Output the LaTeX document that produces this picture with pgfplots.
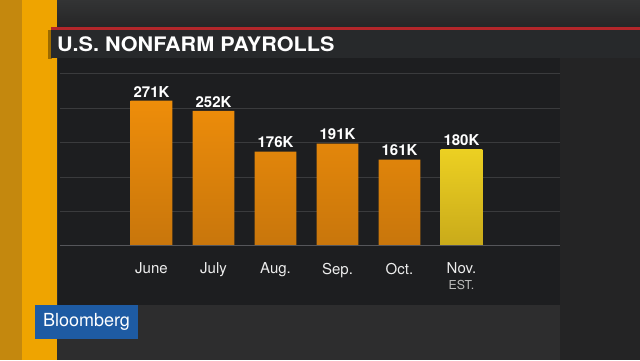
\documentclass[border=0pt]{standalone}
\usepackage{fontspec}
\setmainfont{TeX Gyre Heros}
\newfontfamily\titlefont[FakeStretch=1.08]{TeX Gyre Heros}
\usepackage{pgfplots}
\pgfplotsset{compat=1.18}
\definecolor{bg}{HTML}{2D2D2E}
\definecolor{bgtop}{HTML}{333435}
\definecolor{bgright}{HTML}{242425}
\definecolor{stripedark}{HTML}{C4880E}
\definecolor{stripebright}{HTML}{EFA400}
\definecolor{titlebg}{HTML}{27292B}
\definecolor{redline}{HTML}{B3262A}
\definecolor{panelbg}{HTML}{1D1E20}
\definecolor{bbblue}{HTML}{1E5BA3}
\definecolor{gridc}{HTML}{3A3B3D}
\definecolor{basec}{HTML}{55565A}
\definecolor{orangetop}{HTML}{EE8D0A}
\definecolor{orangebot}{HTML}{C8760C}
\definecolor{yeltop}{HTML}{ECD022}
\definecolor{yelbot}{HTML}{C9AA1A}
\definecolor{labc}{HTML}{EDEDED}
\definecolor{estc}{HTML}{BDBDBD}
\begin{document}
\begin{tikzpicture}[x=1pt,y=1pt]
\useasboundingbox (0,0) rectangle (640,360);
\fill[bg] (0,0) rectangle (640,360);
\shade[top color=bgtop, bottom color=bg!80!black] (0,330) rectangle (640,360);
\fill[bgright] (560,0) rectangle (640,302);
\fill[stripedark] (0,0) rectangle (22,360);
\fill[stripebright] (22,0) rectangle (57,360);
\fill[black, opacity=0.35] (48,301) rectangle (52,330);
\fill[titlebg] (51,302) rectangle (640,330);
\fill[redline] (51,330) rectangle (640,333.5);
\node[anchor=west, text=white, inner sep=0pt] at (57,315.5) {\titlefont\bfseries\fontsize{20}{24}\selectfont U.S. NONFARM PAYROLLS};
\fill[panelbg] (58,55) rectangle (560,302);
\fill[bbblue] (35,21) rectangle (138,55);
\node[text=white, inner sep=0pt] at (86.5,38) {\fontsize{18}{20}\selectfont Bloomberg};
\begin{axis}[
  at={(60pt,114.3pt)}, anchor=south west,
  scale only axis, width=500pt, height=185.7pt,
  xmin=-1.476, xmax=6.589, ymin=0, ymax=347.1,
  ybar, bar width=0.671, bar shift=0pt,
  axis line style={draw=none},
  ytick={64.3,128.6,192.9,257.2,321.5}, yticklabels={},
  ymajorgrids, grid style={gridc, line width=0.8pt},
  major tick length=0pt,
  xtick={0,1,2,3,4,5},
  xticklabels={June,July,Aug.,Sep.,Oct.,{Nov.\\[-2.3pt]{\fontsize{12.3}{14}\selectfont\color{estc}EST.}}},
  xticklabel style={text=labc, font=\fontsize{15}{18}\selectfont, align=center, anchor=north, inner sep=0pt, yshift=-17pt},
  nodes near coords, point meta=explicit symbolic,
  every node near coord/.append style={text=white, font=\bfseries\fontsize{15}{18}\selectfont, anchor=south, inner sep=0pt, yshift=3.5pt},
  clip=false]
\addplot[draw=none, top color=orangetop, bottom color=orangebot] coordinates {(0,271)[271K] (1,252)[252K] (2,176)[176K] (3,191)[191K] (4,161)[161K]};
\addplot[draw=none, top color=yeltop, bottom color=yelbot] coordinates {(5,180)[180K]};
\draw[basec, line width=1pt] (axis cs:-1.476,0) -- (axis cs:6.589,0);
\end{axis}
\end{tikzpicture}
\end{document}
